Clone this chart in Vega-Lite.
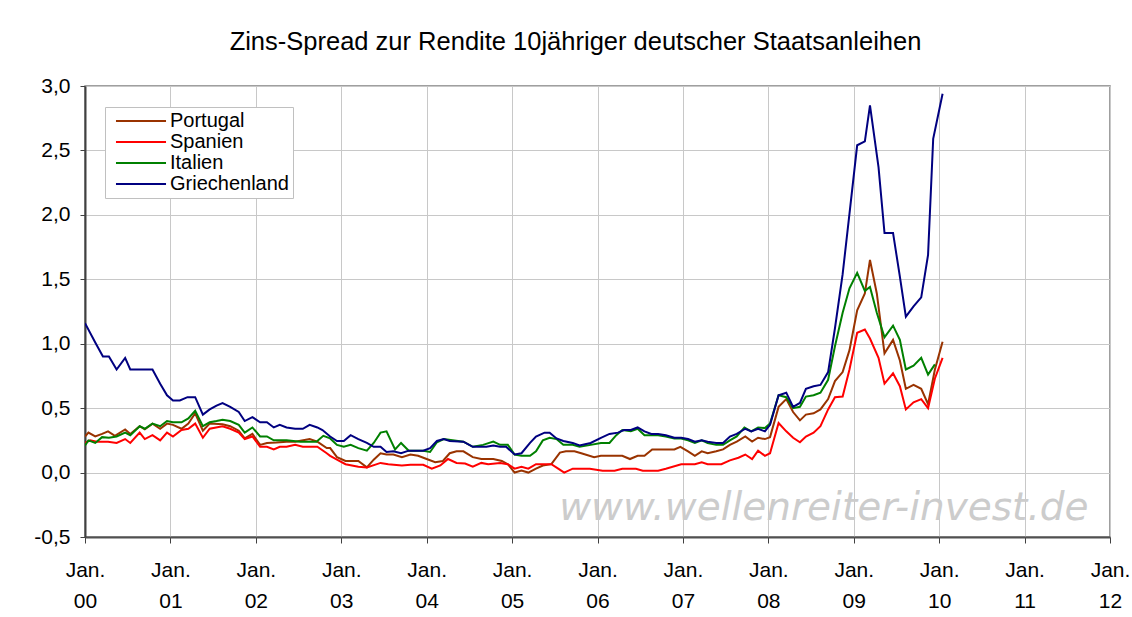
{
  "$schema": "https://vega.github.io/schema/vega-lite/v6.json",
  "autosize": "none",
  "width": 1025,
  "height": 451,
  "padding": {"left": 85, "top": 86, "right": 22, "bottom": 80},
  "background": "white",
  "title": {
    "text": "Zins-Spread zur Rendite 10jähriger deutscher Staatsanleihen",
    "font": "Liberation Sans",
    "fontSize": 25.5,
    "fontWeight": "normal",
    "color": "black",
    "anchor": "middle",
    "frame": "group",
    "dx": -22,
    "baseline": "alphabetic",
    "offset": 0
  },
  "datasets": {
    "spread": [
      {"land":"Portugal","t":2000.00,"v":0.28},{"land":"Portugal","t":2000.04,"v":0.31},{"land":"Portugal","t":2000.12,"v":0.28},{"land":"Portugal","t":2000.20,"v":0.30},{"land":"Portugal","t":2000.27,"v":0.32},{"land":"Portugal","t":2000.35,"v":0.285},{"land":"Portugal","t":2000.47,"v":0.335},{"land":"Portugal","t":2000.53,"v":0.30},{"land":"Portugal","t":2000.64,"v":0.36},{"land":"Portugal","t":2000.70,"v":0.335},{"land":"Portugal","t":2000.79,"v":0.38},{"land":"Portugal","t":2000.88,"v":0.34},{"land":"Portugal","t":2000.96,"v":0.38},{"land":"Portugal","t":2001.03,"v":0.37},{"land":"Portugal","t":2001.13,"v":0.34},{"land":"Portugal","t":2001.21,"v":0.38},{"land":"Portugal","t":2001.29,"v":0.46},{"land":"Portugal","t":2001.38,"v":0.325},{"land":"Portugal","t":2001.46,"v":0.38},{"land":"Portugal","t":2001.61,"v":0.375},{"land":"Portugal","t":2001.70,"v":0.36},{"land":"Portugal","t":2001.80,"v":0.325},{"land":"Portugal","t":2001.87,"v":0.265},{"land":"Portugal","t":2001.96,"v":0.30},{"land":"Portugal","t":2002.05,"v":0.215},{"land":"Portugal","t":2002.13,"v":0.23},{"land":"Portugal","t":2002.24,"v":0.233},{"land":"Portugal","t":2002.36,"v":0.24},{"land":"Portugal","t":2002.46,"v":0.24},{"land":"Portugal","t":2002.63,"v":0.26},{"land":"Portugal","t":2002.72,"v":0.24},{"land":"Portugal","t":2002.83,"v":0.19},{"land":"Portugal","t":2002.87,"v":0.19},{"land":"Portugal","t":2002.95,"v":0.12},{"land":"Portugal","t":2003.05,"v":0.09},{"land":"Portugal","t":2003.20,"v":0.09},{"land":"Portugal","t":2003.30,"v":0.04},{"land":"Portugal","t":2003.38,"v":0.10},{"land":"Portugal","t":2003.46,"v":0.15},{"land":"Portugal","t":2003.53,"v":0.14},{"land":"Portugal","t":2003.61,"v":0.14},{"land":"Portugal","t":2003.71,"v":0.12},{"land":"Portugal","t":2003.81,"v":0.14},{"land":"Portugal","t":2003.90,"v":0.13},{"land":"Portugal","t":2004.00,"v":0.105},{"land":"Portugal","t":2004.10,"v":0.08},{"land":"Portugal","t":2004.19,"v":0.09},{"land":"Portugal","t":2004.27,"v":0.15},{"land":"Portugal","t":2004.35,"v":0.165},{"land":"Portugal","t":2004.43,"v":0.165},{"land":"Portugal","t":2004.54,"v":0.12},{"land":"Portugal","t":2004.64,"v":0.105},{"land":"Portugal","t":2004.78,"v":0.105},{"land":"Portugal","t":2004.88,"v":0.09},{"land":"Portugal","t":2004.95,"v":0.065},{"land":"Portugal","t":2005.03,"v":0.0},{"land":"Portugal","t":2005.11,"v":0.015},{"land":"Portugal","t":2005.19,"v":0.0},{"land":"Portugal","t":2005.28,"v":0.03},{"land":"Portugal","t":2005.36,"v":0.055},{"land":"Portugal","t":2005.46,"v":0.065},{"land":"Portugal","t":2005.56,"v":0.155},{"land":"Portugal","t":2005.63,"v":0.165},{"land":"Portugal","t":2005.73,"v":0.165},{"land":"Portugal","t":2005.81,"v":0.15},{"land":"Portugal","t":2005.96,"v":0.12},{"land":"Portugal","t":2006.04,"v":0.13},{"land":"Portugal","t":2006.29,"v":0.13},{"land":"Portugal","t":2006.38,"v":0.105},{"land":"Portugal","t":2006.47,"v":0.13},{"land":"Portugal","t":2006.55,"v":0.13},{"land":"Portugal","t":2006.64,"v":0.18},{"land":"Portugal","t":2006.75,"v":0.18},{"land":"Portugal","t":2006.90,"v":0.18},{"land":"Portugal","t":2006.97,"v":0.20},{"land":"Portugal","t":2007.06,"v":0.165},{"land":"Portugal","t":2007.14,"v":0.13},{"land":"Portugal","t":2007.22,"v":0.165},{"land":"Portugal","t":2007.29,"v":0.15},{"land":"Portugal","t":2007.39,"v":0.165},{"land":"Portugal","t":2007.47,"v":0.18},{"land":"Portugal","t":2007.55,"v":0.215},{"land":"Portugal","t":2007.63,"v":0.24},{"land":"Portugal","t":2007.73,"v":0.28},{"land":"Portugal","t":2007.81,"v":0.24},{"land":"Portugal","t":2007.88,"v":0.27},{"land":"Portugal","t":2007.96,"v":0.26},{"land":"Portugal","t":2008.02,"v":0.275},{"land":"Portugal","t":2008.12,"v":0.51},{"land":"Portugal","t":2008.21,"v":0.57},{"land":"Portugal","t":2008.29,"v":0.47},{"land":"Portugal","t":2008.37,"v":0.405},{"land":"Portugal","t":2008.44,"v":0.45},{"land":"Portugal","t":2008.53,"v":0.46},{"land":"Portugal","t":2008.61,"v":0.49},{"land":"Portugal","t":2008.70,"v":0.57},{"land":"Portugal","t":2008.78,"v":0.71},{"land":"Portugal","t":2008.87,"v":0.78},{"land":"Portugal","t":2008.95,"v":0.95},{"land":"Portugal","t":2009.04,"v":1.26},{"land":"Portugal","t":2009.13,"v":1.39},{"land":"Portugal","t":2009.19,"v":1.65},{"land":"Portugal","t":2009.27,"v":1.39},{"land":"Portugal","t":2009.36,"v":0.925},{"land":"Portugal","t":2009.46,"v":1.03},{"land":"Portugal","t":2009.54,"v":0.87},{"land":"Portugal","t":2009.61,"v":0.65},{"land":"Portugal","t":2009.70,"v":0.68},{"land":"Portugal","t":2009.79,"v":0.65},{"land":"Portugal","t":2009.87,"v":0.53},{"land":"Portugal","t":2009.95,"v":0.80},{"land":"Portugal","t":2010.04,"v":1.015},

      {"land":"Spanien","t":2000.00,"v":0.23},{"land":"Spanien","t":2000.06,"v":0.25},{"land":"Spanien","t":2000.14,"v":0.24},{"land":"Spanien","t":2000.27,"v":0.24},{"land":"Spanien","t":2000.37,"v":0.23},{"land":"Spanien","t":2000.47,"v":0.26},{"land":"Spanien","t":2000.53,"v":0.23},{"land":"Spanien","t":2000.64,"v":0.31},{"land":"Spanien","t":2000.70,"v":0.26},{"land":"Spanien","t":2000.79,"v":0.29},{"land":"Spanien","t":2000.88,"v":0.25},{"land":"Spanien","t":2000.96,"v":0.31},{"land":"Spanien","t":2001.03,"v":0.28},{"land":"Spanien","t":2001.13,"v":0.33},{"land":"Spanien","t":2001.21,"v":0.34},{"land":"Spanien","t":2001.29,"v":0.38},{"land":"Spanien","t":2001.38,"v":0.27},{"land":"Spanien","t":2001.46,"v":0.34},{"land":"Spanien","t":2001.61,"v":0.36},{"land":"Spanien","t":2001.70,"v":0.34},{"land":"Spanien","t":2001.80,"v":0.31},{"land":"Spanien","t":2001.87,"v":0.26},{"land":"Spanien","t":2001.96,"v":0.28},{"land":"Spanien","t":2002.05,"v":0.20},{"land":"Spanien","t":2002.13,"v":0.20},{"land":"Spanien","t":2002.21,"v":0.18},{"land":"Spanien","t":2002.28,"v":0.20},{"land":"Spanien","t":2002.36,"v":0.20},{"land":"Spanien","t":2002.46,"v":0.215},{"land":"Spanien","t":2002.55,"v":0.20},{"land":"Spanien","t":2002.72,"v":0.20},{"land":"Spanien","t":2002.83,"v":0.15},{"land":"Spanien","t":2002.87,"v":0.13},{"land":"Spanien","t":2002.95,"v":0.10},{"land":"Spanien","t":2003.05,"v":0.065},{"land":"Spanien","t":2003.20,"v":0.045},{"land":"Spanien","t":2003.30,"v":0.04},{"land":"Spanien","t":2003.46,"v":0.075},{"land":"Spanien","t":2003.55,"v":0.065},{"land":"Spanien","t":2003.71,"v":0.055},{"land":"Spanien","t":2003.81,"v":0.06},{"land":"Spanien","t":2003.96,"v":0.06},{"land":"Spanien","t":2004.06,"v":0.03},{"land":"Spanien","t":2004.16,"v":0.055},{"land":"Spanien","t":2004.25,"v":0.105},{"land":"Spanien","t":2004.35,"v":0.075},{"land":"Spanien","t":2004.45,"v":0.07},{"land":"Spanien","t":2004.54,"v":0.045},{"land":"Spanien","t":2004.64,"v":0.075},{"land":"Spanien","t":2004.72,"v":0.065},{"land":"Spanien","t":2004.86,"v":0.075},{"land":"Spanien","t":2004.95,"v":0.065},{"land":"Spanien","t":2005.03,"v":0.03},{"land":"Spanien","t":2005.11,"v":0.045},{"land":"Spanien","t":2005.19,"v":0.03},{"land":"Spanien","t":2005.28,"v":0.065},{"land":"Spanien","t":2005.38,"v":0.065},{"land":"Spanien","t":2005.46,"v":0.065},{"land":"Spanien","t":2005.54,"v":0.03},{"land":"Spanien","t":2005.61,"v":0.0},{"land":"Spanien","t":2005.71,"v":0.03},{"land":"Spanien","t":2005.91,"v":0.03},{"land":"Spanien","t":2006.06,"v":0.015},{"land":"Spanien","t":2006.20,"v":0.015},{"land":"Spanien","t":2006.29,"v":0.03},{"land":"Spanien","t":2006.45,"v":0.03},{"land":"Spanien","t":2006.53,"v":0.015},{"land":"Spanien","t":2006.71,"v":0.015},{"land":"Spanien","t":2006.80,"v":0.03},{"land":"Spanien","t":2006.98,"v":0.065},{"land":"Spanien","t":2007.14,"v":0.065},{"land":"Spanien","t":2007.22,"v":0.08},{"land":"Spanien","t":2007.29,"v":0.065},{"land":"Spanien","t":2007.45,"v":0.065},{"land":"Spanien","t":2007.55,"v":0.095},{"land":"Spanien","t":2007.65,"v":0.115},{"land":"Spanien","t":2007.73,"v":0.14},{"land":"Spanien","t":2007.81,"v":0.105},{"land":"Spanien","t":2007.88,"v":0.17},{"land":"Spanien","t":2007.96,"v":0.13},{"land":"Spanien","t":2008.02,"v":0.15},{"land":"Spanien","t":2008.12,"v":0.385},{"land":"Spanien","t":2008.21,"v":0.32},{"land":"Spanien","t":2008.29,"v":0.27},{"land":"Spanien","t":2008.37,"v":0.235},{"land":"Spanien","t":2008.44,"v":0.28},{"land":"Spanien","t":2008.53,"v":0.31},{"land":"Spanien","t":2008.61,"v":0.36},{"land":"Spanien","t":2008.70,"v":0.49},{"land":"Spanien","t":2008.78,"v":0.585},{"land":"Spanien","t":2008.87,"v":0.59},{"land":"Spanien","t":2008.95,"v":0.80},{"land":"Spanien","t":2009.04,"v":1.085},{"land":"Spanien","t":2009.13,"v":1.11},{"land":"Spanien","t":2009.19,"v":1.04},{"land":"Spanien","t":2009.29,"v":0.89},{"land":"Spanien","t":2009.36,"v":0.69},{"land":"Spanien","t":2009.46,"v":0.77},{"land":"Spanien","t":2009.54,"v":0.67},{"land":"Spanien","t":2009.61,"v":0.49},{"land":"Spanien","t":2009.70,"v":0.545},{"land":"Spanien","t":2009.79,"v":0.57},{"land":"Spanien","t":2009.87,"v":0.50},{"land":"Spanien","t":2009.95,"v":0.73},{"land":"Spanien","t":2010.04,"v":0.89},

      {"land":"Italien","t":2000.00,"v":0.21},{"land":"Italien","t":2000.04,"v":0.25},{"land":"Italien","t":2000.12,"v":0.23},{"land":"Italien","t":2000.20,"v":0.275},{"land":"Italien","t":2000.28,"v":0.27},{"land":"Italien","t":2000.37,"v":0.28},{"land":"Italien","t":2000.47,"v":0.31},{"land":"Italien","t":2000.53,"v":0.29},{"land":"Italien","t":2000.64,"v":0.36},{"land":"Italien","t":2000.70,"v":0.34},{"land":"Italien","t":2000.79,"v":0.38},{"land":"Italien","t":2000.88,"v":0.36},{"land":"Italien","t":2000.96,"v":0.40},{"land":"Italien","t":2001.03,"v":0.39},{"land":"Italien","t":2001.13,"v":0.39},{"land":"Italien","t":2001.21,"v":0.42},{"land":"Italien","t":2001.29,"v":0.48},{"land":"Italien","t":2001.38,"v":0.36},{"land":"Italien","t":2001.46,"v":0.39},{"land":"Italien","t":2001.54,"v":0.40},{"land":"Italien","t":2001.61,"v":0.41},{"land":"Italien","t":2001.70,"v":0.40},{"land":"Italien","t":2001.80,"v":0.37},{"land":"Italien","t":2001.87,"v":0.31},{"land":"Italien","t":2001.96,"v":0.35},{"land":"Italien","t":2002.05,"v":0.28},{"land":"Italien","t":2002.13,"v":0.28},{"land":"Italien","t":2002.21,"v":0.25},{"land":"Italien","t":2002.36,"v":0.25},{"land":"Italien","t":2002.52,"v":0.24},{"land":"Italien","t":2002.71,"v":0.24},{"land":"Italien","t":2002.79,"v":0.285},{"land":"Italien","t":2002.87,"v":0.265},{"land":"Italien","t":2002.95,"v":0.215},{"land":"Italien","t":2003.03,"v":0.20},{"land":"Italien","t":2003.11,"v":0.215},{"land":"Italien","t":2003.20,"v":0.19},{"land":"Italien","t":2003.30,"v":0.17},{"land":"Italien","t":2003.38,"v":0.23},{"land":"Italien","t":2003.46,"v":0.31},{"land":"Italien","t":2003.53,"v":0.32},{"land":"Italien","t":2003.63,"v":0.18},{"land":"Italien","t":2003.70,"v":0.23},{"land":"Italien","t":2003.79,"v":0.17},{"land":"Italien","t":2003.96,"v":0.17},{"land":"Italien","t":2004.04,"v":0.16},{"land":"Italien","t":2004.12,"v":0.235},{"land":"Italien","t":2004.20,"v":0.26},{"land":"Italien","t":2004.43,"v":0.24},{"land":"Italien","t":2004.54,"v":0.20},{"land":"Italien","t":2004.66,"v":0.215},{"land":"Italien","t":2004.78,"v":0.24},{"land":"Italien","t":2004.86,"v":0.215},{"land":"Italien","t":2004.95,"v":0.215},{"land":"Italien","t":2005.03,"v":0.14},{"land":"Italien","t":2005.11,"v":0.13},{"land":"Italien","t":2005.21,"v":0.13},{"land":"Italien","t":2005.28,"v":0.165},{"land":"Italien","t":2005.36,"v":0.25},{"land":"Italien","t":2005.44,"v":0.27},{"land":"Italien","t":2005.52,"v":0.26},{"land":"Italien","t":2005.60,"v":0.215},{"land":"Italien","t":2005.71,"v":0.215},{"land":"Italien","t":2005.79,"v":0.20},{"land":"Italien","t":2005.92,"v":0.215},{"land":"Italien","t":2006.04,"v":0.23},{"land":"Italien","t":2006.14,"v":0.23},{"land":"Italien","t":2006.22,"v":0.29},{"land":"Italien","t":2006.29,"v":0.33},{"land":"Italien","t":2006.39,"v":0.32},{"land":"Italien","t":2006.47,"v":0.34},{"land":"Italien","t":2006.55,"v":0.29},{"land":"Italien","t":2006.71,"v":0.29},{"land":"Italien","t":2006.80,"v":0.28},{"land":"Italien","t":2006.90,"v":0.265},{"land":"Italien","t":2006.98,"v":0.265},{"land":"Italien","t":2007.06,"v":0.25},{"land":"Italien","t":2007.14,"v":0.23},{"land":"Italien","t":2007.22,"v":0.25},{"land":"Italien","t":2007.29,"v":0.23},{"land":"Italien","t":2007.39,"v":0.215},{"land":"Italien","t":2007.47,"v":0.215},{"land":"Italien","t":2007.55,"v":0.25},{"land":"Italien","t":2007.63,"v":0.28},{"land":"Italien","t":2007.72,"v":0.35},{"land":"Italien","t":2007.80,"v":0.32},{"land":"Italien","t":2007.88,"v":0.35},{"land":"Italien","t":2007.96,"v":0.345},{"land":"Italien","t":2008.02,"v":0.38},{"land":"Italien","t":2008.12,"v":0.60},{"land":"Italien","t":2008.21,"v":0.585},{"land":"Italien","t":2008.29,"v":0.50},{"land":"Italien","t":2008.37,"v":0.51},{"land":"Italien","t":2008.44,"v":0.59},{"land":"Italien","t":2008.53,"v":0.60},{"land":"Italien","t":2008.61,"v":0.62},{"land":"Italien","t":2008.70,"v":0.72},{"land":"Italien","t":2008.78,"v":0.98},{"land":"Italien","t":2008.87,"v":1.24},{"land":"Italien","t":2008.95,"v":1.43},{"land":"Italien","t":2009.04,"v":1.55},{"land":"Italien","t":2009.13,"v":1.41},{"land":"Italien","t":2009.19,"v":1.44},{"land":"Italien","t":2009.27,"v":1.24},{"land":"Italien","t":2009.36,"v":1.05},{"land":"Italien","t":2009.46,"v":1.14},{"land":"Italien","t":2009.54,"v":1.03},{"land":"Italien","t":2009.61,"v":0.80},{"land":"Italien","t":2009.70,"v":0.83},{"land":"Italien","t":2009.79,"v":0.89},{"land":"Italien","t":2009.87,"v":0.76},{"land":"Italien","t":2009.95,"v":0.84},

      {"land":"Griechenland","t":2000.00,"v":1.16},{"land":"Griechenland","t":2000.12,"v":1.01},{"land":"Griechenland","t":2000.21,"v":0.90},{"land":"Griechenland","t":2000.28,"v":0.90},{"land":"Griechenland","t":2000.37,"v":0.80},{"land":"Griechenland","t":2000.47,"v":0.89},{"land":"Griechenland","t":2000.53,"v":0.80},{"land":"Griechenland","t":2000.79,"v":0.80},{"land":"Griechenland","t":2000.88,"v":0.69},{"land":"Griechenland","t":2000.96,"v":0.60},{"land":"Griechenland","t":2001.03,"v":0.56},{"land":"Griechenland","t":2001.11,"v":0.56},{"land":"Griechenland","t":2001.20,"v":0.585},{"land":"Griechenland","t":2001.29,"v":0.585},{"land":"Griechenland","t":2001.38,"v":0.45},{"land":"Griechenland","t":2001.46,"v":0.49},{"land":"Griechenland","t":2001.54,"v":0.52},{"land":"Griechenland","t":2001.61,"v":0.54},{"land":"Griechenland","t":2001.70,"v":0.51},{"land":"Griechenland","t":2001.80,"v":0.47},{"land":"Griechenland","t":2001.87,"v":0.40},{"land":"Griechenland","t":2001.96,"v":0.43},{"land":"Griechenland","t":2002.05,"v":0.39},{"land":"Griechenland","t":2002.13,"v":0.39},{"land":"Griechenland","t":2002.21,"v":0.35},{"land":"Griechenland","t":2002.28,"v":0.37},{"land":"Griechenland","t":2002.36,"v":0.35},{"land":"Griechenland","t":2002.46,"v":0.34},{"land":"Griechenland","t":2002.55,"v":0.34},{"land":"Griechenland","t":2002.63,"v":0.37},{"land":"Griechenland","t":2002.72,"v":0.35},{"land":"Griechenland","t":2002.78,"v":0.33},{"land":"Griechenland","t":2002.87,"v":0.28},{"land":"Griechenland","t":2002.95,"v":0.245},{"land":"Griechenland","t":2003.03,"v":0.245},{"land":"Griechenland","t":2003.11,"v":0.29},{"land":"Griechenland","t":2003.20,"v":0.26},{"land":"Griechenland","t":2003.30,"v":0.23},{"land":"Griechenland","t":2003.38,"v":0.20},{"land":"Griechenland","t":2003.46,"v":0.20},{"land":"Griechenland","t":2003.53,"v":0.16},{"land":"Griechenland","t":2003.61,"v":0.165},{"land":"Griechenland","t":2003.70,"v":0.15},{"land":"Griechenland","t":2003.79,"v":0.17},{"land":"Griechenland","t":2003.96,"v":0.17},{"land":"Griechenland","t":2004.04,"v":0.19},{"land":"Griechenland","t":2004.12,"v":0.245},{"land":"Griechenland","t":2004.20,"v":0.26},{"land":"Griechenland","t":2004.27,"v":0.245},{"land":"Griechenland","t":2004.43,"v":0.24},{"land":"Griechenland","t":2004.54,"v":0.20},{"land":"Griechenland","t":2004.70,"v":0.20},{"land":"Griechenland","t":2004.78,"v":0.21},{"land":"Griechenland","t":2004.86,"v":0.20},{"land":"Griechenland","t":2004.93,"v":0.20},{"land":"Griechenland","t":2005.03,"v":0.14},{"land":"Griechenland","t":2005.11,"v":0.15},{"land":"Griechenland","t":2005.21,"v":0.23},{"land":"Griechenland","t":2005.28,"v":0.28},{"land":"Griechenland","t":2005.38,"v":0.31},{"land":"Griechenland","t":2005.44,"v":0.31},{"land":"Griechenland","t":2005.52,"v":0.265},{"land":"Griechenland","t":2005.60,"v":0.245},{"land":"Griechenland","t":2005.71,"v":0.23},{"land":"Griechenland","t":2005.79,"v":0.21},{"land":"Griechenland","t":2005.92,"v":0.23},{"land":"Griechenland","t":2006.04,"v":0.27},{"land":"Griechenland","t":2006.14,"v":0.30},{"land":"Griechenland","t":2006.24,"v":0.31},{"land":"Griechenland","t":2006.31,"v":0.33},{"land":"Griechenland","t":2006.39,"v":0.33},{"land":"Griechenland","t":2006.47,"v":0.35},{"land":"Griechenland","t":2006.55,"v":0.32},{"land":"Griechenland","t":2006.63,"v":0.30},{"land":"Griechenland","t":2006.71,"v":0.30},{"land":"Griechenland","t":2006.80,"v":0.29},{"land":"Griechenland","t":2006.90,"v":0.27},{"land":"Griechenland","t":2006.98,"v":0.27},{"land":"Griechenland","t":2007.06,"v":0.26},{"land":"Griechenland","t":2007.14,"v":0.24},{"land":"Griechenland","t":2007.22,"v":0.25},{"land":"Griechenland","t":2007.29,"v":0.24},{"land":"Griechenland","t":2007.39,"v":0.23},{"land":"Griechenland","t":2007.47,"v":0.23},{"land":"Griechenland","t":2007.55,"v":0.28},{"land":"Griechenland","t":2007.63,"v":0.30},{"land":"Griechenland","t":2007.73,"v":0.34},{"land":"Griechenland","t":2007.80,"v":0.32},{"land":"Griechenland","t":2007.88,"v":0.34},{"land":"Griechenland","t":2007.96,"v":0.32},{"land":"Griechenland","t":2008.02,"v":0.37},{"land":"Griechenland","t":2008.12,"v":0.60},{"land":"Griechenland","t":2008.21,"v":0.62},{"land":"Griechenland","t":2008.29,"v":0.51},{"land":"Griechenland","t":2008.37,"v":0.54},{"land":"Griechenland","t":2008.44,"v":0.65},{"land":"Griechenland","t":2008.53,"v":0.67},{"land":"Griechenland","t":2008.61,"v":0.68},{"land":"Griechenland","t":2008.70,"v":0.78},{"land":"Griechenland","t":2008.78,"v":1.12},{"land":"Griechenland","t":2008.87,"v":1.54},{"land":"Griechenland","t":2008.95,"v":2.01},{"land":"Griechenland","t":2009.04,"v":2.54},{"land":"Griechenland","t":2009.13,"v":2.57},{"land":"Griechenland","t":2009.19,"v":2.85},{"land":"Griechenland","t":2009.29,"v":2.37},{"land":"Griechenland","t":2009.36,"v":1.86},{"land":"Griechenland","t":2009.46,"v":1.86},{"land":"Griechenland","t":2009.54,"v":1.52},{"land":"Griechenland","t":2009.61,"v":1.21},{"land":"Griechenland","t":2009.70,"v":1.29},{"land":"Griechenland","t":2009.79,"v":1.36},{"land":"Griechenland","t":2009.87,"v":1.69},{"land":"Griechenland","t":2009.93,"v":2.59},{"land":"Griechenland","t":2010.04,"v":2.94}
    ],
    "watermark": [
      {"t": 2008.65, "v": -0.275, "label": "www.wellenreiter-invest.de"}
    ]
  },
  "layer": [
    {
      "data": {"name": "watermark"},
      "mark": {"type": "text", "font": "DejaVu Sans", "fontStyle": "italic", "fontSize": 39, "color": "#cccccc", "align": "center", "baseline": "middle"},
      "encoding": {
        "x": {"field": "t", "type": "quantitative"},
        "y": {"field": "v", "type": "quantitative"},
        "text": {"field": "label", "type": "nominal"}
      }
    },
    {
      "data": {"name": "spread"},
      "mark": {"type": "line", "strokeWidth": 2, "clip": true},
      "encoding": {
        "x": {
          "field": "t", "type": "quantitative",
          "scale": {"domain": [2000, 2012], "nice": false, "zero": false},
          "axis": {
            "title": null,
            "values": [2000, 2001, 2002, 2003, 2004, 2005, 2006, 2007, 2008, 2009, 2010, 2011, 2012],
            "labelExpr": "['Jan.', substring(toString(datum.value), 2, 4)]",
            "labelLineHeight": 31,
            "labelFont": "Liberation Sans",
            "labelFontSize": 21,
            "labelColor": "black",
            "labelAngle": 0,
            "labelOverlap": false,
            "labelFlush": false,
            "labelPadding": 16,
            "tickSize": 6,
            "tickColor": "#404040",
            "domainColor": "#505050",
            "domainWidth": 2,
            "grid": true,
            "gridColor": "#c8c8c8",
            "gridWidth": 1
          }
        },
        "y": {
          "field": "v", "type": "quantitative",
          "scale": {"domain": [-0.5, 3], "nice": false, "zero": false},
          "axis": {
            "title": null,
            "values": [-0.5, 0, 0.5, 1, 1.5, 2, 2.5, 3],
            "labelExpr": "replace(replace(format(datum.value, '.1f'), '.', ','), '\u2212', '-')",
            "labelFont": "Liberation Sans",
            "labelFontSize": 21,
            "labelColor": "black",
            "labelPadding": 10,
            "tickSize": 5,
            "tickColor": "#404040",
            "domainColor": "#404040",
            "domainWidth": 2,
            "grid": true,
            "gridColor": "#c8c8c8",
            "gridWidth": 1
          }
        },
        "color": {
          "field": "land", "type": "nominal",
          "scale": {"domain": ["Portugal", "Spanien", "Italien", "Griechenland"], "range": ["#993300", "#ff0000", "#008000", "#000080"]},
          "legend": {
            "title": null,
            "orient": "none",
            "legendX": 20,
            "legendY": 21,
            "padding": 4,
            "strokeColor": "#c0c0c0",
            "fillColor": "white",
            "symbolType": "M-2.78,0H2.78",
            "symbolSize": 324,
            "symbolStrokeWidth": 2,
            "symbolOffset": 22,
            "labelOffset": 19,
            "labelFont": "Liberation Sans",
            "labelFontSize": 20,
            "labelColor": "black",
            "rowPadding": 1
          }
        }
      }
    }
  ],
  "config": {
    "view": {"stroke": "#808080", "strokeWidth": 1.5}
  }
}
